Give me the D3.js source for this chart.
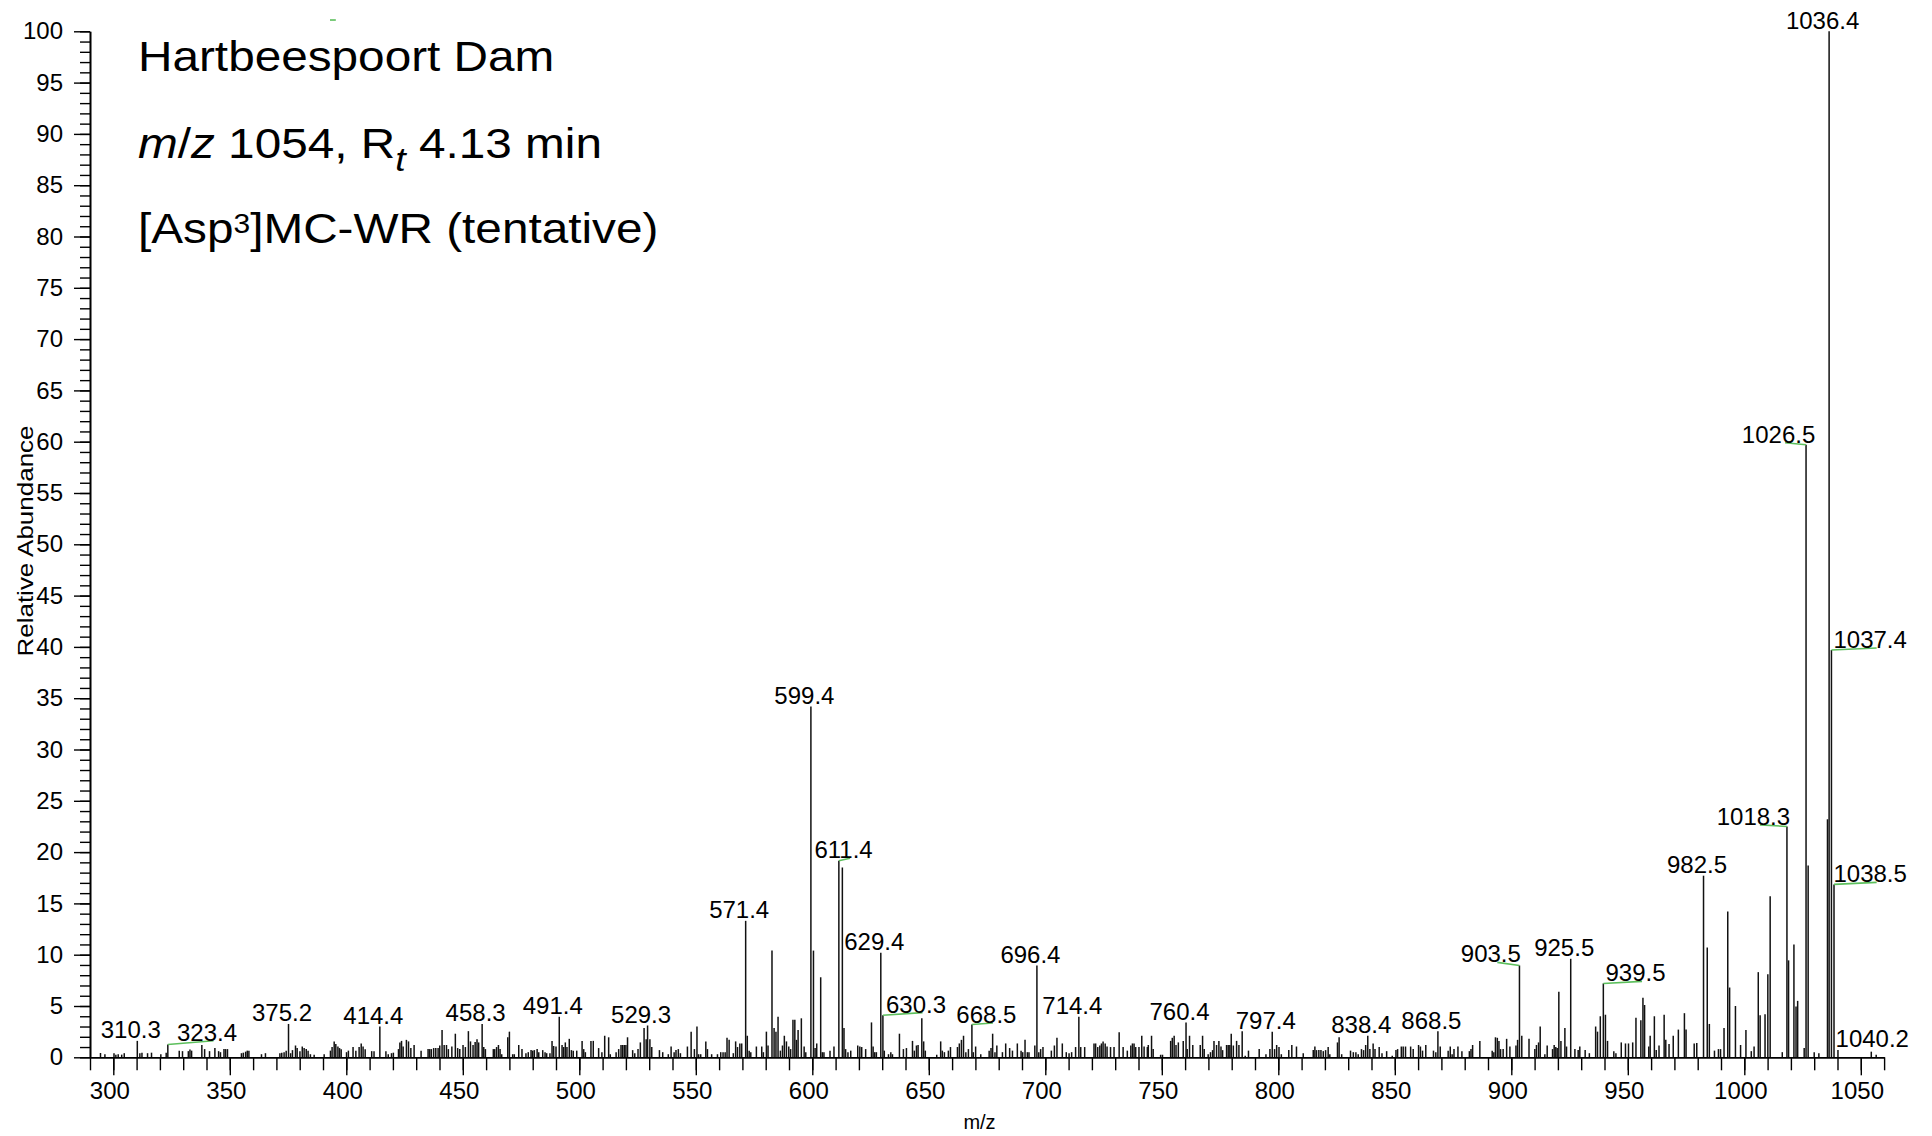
<!DOCTYPE html>
<html><head><meta charset="utf-8">
<script src="https://cdn.jsdelivr.net/npm/d3@7"></script>
<style>
html,body{margin:0;padding:0;background:#fff;}
svg{display:block;font-family:"Liberation Sans",Arial,Helvetica,sans-serif;}
</style></head>
<body>
<svg id="chart" width="1932" height="1136"></svg>
<script>
// ---- spectrum data: m/z and relative abundance (%) ----
const peakMz = [
294.5,296.4,300.3,301.1,302.1,303.6,304.7,310.3,311.4,312.3,314.7,316.4,320.4,322.7,323.4,328.3,329.7,332.2,332.9,333.6,
338.0,339.2,341.3,343.6,345.2,346.0,347.5,348.2,349.0,355.0,355.8,356.8,357.5,358.2,363.6,365.3,371.5,372.3,373.3,374.2,
375.2,376.1,376.9,378.2,378.9,380.1,381.1,381.9,382.8,383.6,384.6,386.2,390.5,393.2,393.9,394.8,395.5,396.4,397.1,397.8,
400.1,400.9,402.9,404.1,405.5,406.4,407.2,408.1,410.9,411.9,414.4,417.0,418.0,419.4,420.2,422.4,423.0,423.7,424.4,425.8,
426.7,427.7,429.1,432.1,435.1,435.8,436.5,437.5,438.4,439.4,440.1,441.1,442.0,443.0,443.8,445.3,446.8,447.8,448.7,450.1,
451.1,452.4,453.3,454.4,455.3,456.1,456.8,458.3,459.0,459.7,463.1,463.7,464.5,465.3,466.0,466.7,469.3,470.0,471.4,472.1,
474.0,475.4,477.1,478.1,479.3,480.0,480.7,481.9,482.6,484.3,485.3,486.0,487.4,488.3,489.0,490.0,491.4,492.6,493.3,494.0,
494.7,495.7,496.6,497.4,498.9,501.2,501.9,502.6,505.0,506.0,508.3,509.7,510.9,512.6,513.3,515.8,516.9,517.9,518.6,519.3,
520.0,520.7,522.9,523.8,525.2,526.2,527.8,528.7,529.3,530.3,531.1,534.4,535.8,538.2,539.4,540.7,541.5,542.5,543.4,546.4,
548.0,549.4,550.5,551.2,552.1,554.3,555.0,556.8,559.3,560.7,561.7,562.6,563.4,564.3,566.1,567.1,567.9,568.9,569.7,571.4,
572.1,572.9,573.6,576.0,578.3,579.0,580.3,581.0,582.7,583.6,584.4,585.3,586.3,587.2,588.0,588.9,589.9,590.7,591.7,592.5,
593.2,593.9,595.3,596.5,597.2,599.4,600.5,601.2,601.9,603.6,604.3,605.0,607.6,609.3,611.4,612.9,613.6,614.3,615.3,616.5,
619.5,620.4,621.2,622.9,625.4,626.1,626.8,627.5,629.4,630.3,630.9,632.7,633.7,634.4,637.4,639.1,640.4,643.0,643.8,644.7,
645.4,647.0,647.8,648.5,653.4,655.1,655.8,656.7,658.4,659.3,662.3,663.1,664.0,664.9,665.9,667.0,668.5,669.1,670.1,672.3,
675.9,676.7,677.4,678.4,679.2,681.6,683.0,684.7,685.9,688.0,689.6,690.3,691.3,692.3,693.0,695.5,696.4,697.2,698.0,699.0,
702.6,703.9,705.0,707.3,709.0,710.2,711.3,713.0,714.4,715.2,716.9,720.9,721.6,722.5,723.4,724.1,724.8,725.7,726.5,728.0,
729.5,731.7,733.4,735.2,736.7,737.4,738.1,738.8,740.2,741.4,742.4,743.8,744.2,745.6,746.3,749.5,750.3,753.8,754.5,755.3,
756.1,757.1,759.2,760.4,760.9,761.9,763.3,766.5,767.5,768.2,769.9,770.9,771.8,772.4,773.5,774.5,775.4,776.1,777.8,778.5,
779.2,779.8,780.7,782.1,783.1,784.5,785.8,787.2,791.8,794.7,796.4,797.4,798.4,799.3,800.3,801.3,804.5,805.8,807.8,810.7,
815.0,815.7,816.4,817.4,818.3,819.3,820.3,821.4,822.1,825.4,826.1,827.2,831.0,832.2,833.3,834.3,835.7,836.6,837.5,838.4,
839.3,840.7,841.5,843.3,844.5,846.5,848.9,850.5,851.2,852.8,853.6,854.6,856.8,857.9,860.2,861.0,861.9,863.3,866.6,867.6,
868.5,869.5,872.9,873.8,874.6,875.4,877.1,878.8,882.0,882.7,883.4,886.5,891.8,892.5,893.2,894.0,894.7,895.4,896.5,898.0,
899.4,902.0,902.7,903.5,904.5,907.6,910.1,910.8,911.7,912.4,914.4,915.4,917.7,918.4,919.1,919.7,920.4,921.3,923.0,923.7,
925.5,927.3,928.7,929.4,931.7,933.5,936.2,937.0,938.2,939.5,940.4,941.3,944.0,944.9,947.2,949.0,950.3,952.1,953.5,955.6,
956.5,957.2,959.0,959.6,961.4,962.2,963.4,965.6,966.3,967.7,969.5,971.7,974.3,975.0,978.5,979.6,982.5,984.1,985.0,987.2,
988.9,989.8,991.3,992.9,993.7,996.2,998.4,1000.7,1003.0,1004.2,1006.0,1006.8,1008.9,1010.1,1011.1,1016.3,1018.3,1019.0,1021.3,1022.2,
1022.9,1025.7,1026.5,1027.4,1030.0,1032.0,1035.7,1036.4,1037.4,1038.5,1040.2,1054.5,1056.6
];
const peakAbundance = [
0.42,0.3,0.4,0.26,0.3,0.26,0.4,1.6,0.4,0.45,0.4,0.45,0.3,0.45,1.25,0.65,0.6,0.6,0.75,0.65,
1.2,0.8,0.6,0.9,0.6,0.5,0.8,0.8,0.8,0.4,0.45,0.55,0.65,0.65,0.3,0.4,0.4,0.45,0.5,0.65,
3.25,0.4,0.7,1.15,0.9,0.6,1.05,0.9,0.8,0.65,0.3,0.26,0.3,0.65,1.0,1.55,1.3,1.05,0.9,0.78,
0.5,0.65,1.0,0.65,1.0,1.35,1.05,0.78,0.6,0.6,3.0,0.6,0.3,0.4,0.45,0.8,1.45,1.6,1.05,1.7,
1.55,0.9,1.2,0.65,0.8,0.8,0.8,0.9,0.9,0.9,1.15,2.65,1.2,1.2,0.8,1.05,2.3,0.9,0.8,1.2,
1.0,2.55,1.55,1.2,1.5,1.75,1.45,3.25,1.0,0.8,0.8,0.8,1.0,1.2,0.8,0.3,1.95,2.5,0.3,0.3,
1.2,0.8,0.4,0.5,0.7,0.65,0.7,0.8,0.5,0.7,0.5,0.4,0.4,1.6,1.1,1.05,3.95,1.2,1.0,1.45,
1.0,1.8,0.7,0.65,0.65,1.6,0.8,0.5,1.6,1.6,0.9,0.5,2.1,1.95,0.3,0.5,0.8,1.2,1.2,1.2,
1.2,1.95,0.7,0.4,0.8,1.45,2.85,1.75,3.1,1.75,1.0,0.7,0.5,0.3,1.05,0.5,0.7,0.8,0.4,1.05,
2.5,0.8,3.0,0.3,0.3,1.55,0.8,0.3,0.3,0.5,0.5,0.5,1.9,1.7,0.4,1.55,1.0,1.35,1.35,13.3,
2.1,0.65,0.5,1.05,1.05,0.5,2.5,1.15,10.4,2.85,2.5,3.95,0.65,1.15,2.1,1.55,1.05,0.8,3.65,3.65,
1.7,2.65,3.8,1.05,0.5,34.2,10.4,0.9,1.35,7.8,0.5,0.5,0.65,1.05,19.15,18.5,2.85,0.8,0.5,0.65,
1.15,1.05,1.0,0.8,3.4,1.05,0.5,0.5,10.2,4.1,0.65,0.3,0.5,0.3,2.3,0.8,0.9,1.6,0.65,1.15,
1.2,3.8,1.55,0.65,0.25,1.55,0.65,0.5,0.65,1.0,1.0,1.35,1.7,2.1,0.5,0.8,3.2,0.5,1.05,0.3,
0.65,0.9,2.3,0.5,1.15,0.5,1.35,0.9,0.65,1.35,0.65,0.5,1.7,0.5,0.5,1.15,8.95,0.5,0.8,1.0,
0.65,1.15,1.9,1.35,0.5,0.4,0.5,1.0,3.95,1.0,1.0,1.35,1.35,1.0,1.15,1.35,1.55,1.35,1.05,1.0,
1.0,2.45,1.0,0.65,1.15,1.35,1.35,1.0,1.0,2.1,1.05,1.0,1.2,2.1,0.8,0.25,0.25,1.6,1.9,2.1,
1.2,1.45,1.6,3.4,0.8,2.1,1.2,1.2,2.1,0.8,0.3,0.5,0.7,1.6,1.2,1.6,1.05,0.7,1.2,1.2,
1.2,2.3,1.15,1.6,1.2,2.55,0.15,0.65,0.8,0.3,0.8,2.5,0.8,1.2,1.0,0.3,0.7,1.2,1.05,0.4,
0.7,1.05,0.7,0.7,0.7,0.6,0.7,1.0,0.3,1.45,1.95,0.3,0.65,0.5,0.5,0.3,0.8,0.7,1.2,2.1,
0.8,1.35,0.8,1.0,0.4,0.6,0.15,0.7,0.8,1.05,1.05,1.05,1.05,0.8,1.2,1.05,0.65,1.2,0.65,0.5,
2.55,1.05,0.65,1.05,0.3,0.8,1.05,0.6,0.6,0.8,1.2,1.6,0.65,0.5,1.95,1.9,1.6,0.8,0.8,1.8,
1.05,1.15,1.7,8.95,2.1,1.8,0.8,1.2,1.45,3.0,0.3,1.15,0.8,1.2,1.0,0.9,6.4,1.6,2.85,1.05,
9.6,0.8,0.7,1.05,0.7,0.4,3.0,2.5,4.0,7.2,4.15,1.6,0.6,0.4,1.45,1.35,1.35,1.45,3.85,3.6,
5.8,5.1,1.05,2.1,4.0,0.7,1.15,4.15,1.7,1.3,2.1,2.7,4.3,2.7,1.35,1.4,17.7,10.7,3.25,0.65,
0.8,0.8,2.85,14.2,6.8,5.0,1.2,2.65,0.6,1.05,8.3,4.1,4.2,8.1,15.7,0.5,22.5,9.45,11.0,4.95,
5.5,0.9,59.7,18.7,0.5,0.4,23.2,100,39.7,16.85,0.7,0.55,0.25
];

// ---- annotated peaks ----
const labelTexts = ["310.3","323.4","375.2","414.4","458.3","491.4","529.3","571.4","599.4","611.4","629.4","630.3","668.5",
  "696.4","714.4","760.4","797.4","838.4","868.5","903.5","925.5","939.5","982.5","1018.3","1026.5","1036.4","1037.4","1038.5","1040.2"];
const labelPeakMz = [310.3,323.4,375.2,414.4,458.3,491.4,529.3,571.4,599.4,611.4,629.4,630.3,668.5,
  696.4,714.4,760.4,797.4,838.4,868.5,903.5,925.5,939.5,982.5,1018.3,1026.5,1036.4,1037.4,1038.5,1040.2];
const labelPeakValue = [1.6,1.25,3.25,3.0,3.25,3.95,3.1,13.3,34.2,19.15,10.2,4.1,3.2,
  8.95,3.95,3.4,2.5,2.1,2.55,8.95,9.6,7.2,17.7,22.5,59.7,100,39.7,16.85,0.7];
// where each label sits (m/z of its anchor, abundance level of its baseline); leader = green connector
const labelAnchorMz = [310.3,343.0,375.2,414.4,458.3,491.4,529.3,571.4,599.4,616.2,629.4,647.3,677.5,
  696.4,714.4,760.4,797.4,838.4,868.5,894.0,925.5,956.1,982.5,1006.7,1017.5,1036.4,1056.8,1056.8,1057.7];
const labelAnchorValue = [1.85,1.62,3.5,3.25,3.5,4.2,3.35,13.55,34.45,19.4,10.45,4.35,3.35,
  9.2,4.2,3.65,2.75,2.35,2.8,9.25,9.85,7.4,17.95,22.65,59.9,100.2,39.9,17.05,1.05];
const labelLeader = [false,true,false,false,false,false,false,false,false,true,false,true,true,
  false,false,false,false,false,false,true,false,true,false,true,true,false,true,true,false];
const strayMarkMz = [393.0, 395.5];
const strayMarkValue = [101.1, 101.1];

// ---- axes ----
const xTickLabels = [300,350,400,450,500,550,600,650,700,750,800,850,900,950,1000,1050];
const yTickLabels = [0,5,10,15,20,25,30,35,40,45,50,55,60,65,70,75,80,85,90,95,100];
const xMinorTicks = d3.range(290, 1061, 10);
const yMinorTicks = d3.range(0, 101, 1);

const svg = d3.select("#chart");
const x = d3.scaleLinear().domain([290, 1060]).range([90, 1884.1]);
const y = d3.scaleLinear().domain([0, 100]).range([1057.3, 31.3]);

// peaks
svg.append("g").selectAll("line").data(peakMz).join("line")
  .attr("x1", d => x(d)).attr("x2", d => x(d))
  .attr("y1", y(0)).attr("y2", (d, i) => y(peakAbundance[i]))
  .attr("stroke", "#111").attr("stroke-width", 1.5);

// x axis
const gx = svg.append("g").attr("transform", `translate(0,${y(0)})`);
gx.call(d3.axisBottom(x).tickValues(xMinorTicks).tickSize(13).tickSizeOuter(0).tickFormat(""));
const gx2 = svg.append("g").attr("transform", `translate(0,${y(0)})`);
gx2.call(d3.axisBottom(x).tickValues(xTickLabels).tickSize(18).tickSizeOuter(0).tickPadding(7).tickFormat(d3.format("d")));
gx2.selectAll(".tick text").attr("dx", -4);
[gx, gx2].forEach(g => {
  g.selectAll("path.domain").attr("stroke", "#000").attr("stroke-width", 1.6);
  g.selectAll(".tick line").attr("stroke", "#000").attr("stroke-width", 1.4);
  g.selectAll("text").attr("font-size", 24).attr("fill", "#000").attr("font-family", "Liberation Sans, Arial, sans-serif");
});

// y axis
const gy = svg.append("g").attr("transform", `translate(${x(290)},0)`);
gy.call(d3.axisLeft(y).tickValues(yMinorTicks).tickSize(10).tickSizeOuter(0).tickFormat(""));
const gy2 = svg.append("g").attr("transform", `translate(${x(290)},0)`);
gy2.call(d3.axisLeft(y).tickValues(yTickLabels).tickSize(16).tickSizeOuter(0).tickPadding(11).tickFormat(d3.format("d")));
[gy, gy2].forEach(g => {
  g.selectAll("path.domain").attr("stroke", "#000").attr("stroke-width", 1.6);
  g.selectAll(".tick line").attr("stroke", "#000").attr("stroke-width", 1.4);
  g.selectAll("text").attr("font-size", 24).attr("fill", "#000").attr("font-family", "Liberation Sans, Arial, sans-serif");
});

// leaders (green)
const leaderIdx = labelTexts.map((t, i) => i).filter(i => labelLeader[i]);
svg.append("g").selectAll("line").data(leaderIdx).join("line")
  .attr("x1", i => x(labelPeakMz[i])).attr("y1", i => y(labelPeakValue[i]))
  .attr("x2", i => x(labelAnchorMz[i])).attr("y2", i => y(labelAnchorValue[i]))
  .attr("stroke", "#5cbf5c").attr("stroke-width", 1.6);
svg.append("line")
  .attr("x1", x(strayMarkMz[0])).attr("x2", x(strayMarkMz[1]))
  .attr("y1", y(strayMarkValue[0])).attr("y2", y(strayMarkValue[1]))
  .attr("stroke", "#5cbf5c").attr("stroke-width", 1.6);

// peak labels
svg.append("g").selectAll("text").data(labelTexts).join("text")
  .attr("x", (d, i) => x(labelAnchorMz[i]) - 6.5)
  .attr("y", (d, i) => y(labelAnchorValue[i]))
  .attr("text-anchor", "middle").attr("font-size", 24).attr("fill", "#000")
  .text(d => d);

// axis titles
svg.append("text").attr("x", 979.5).attr("y", 1129).attr("text-anchor", "middle")
  .attr("font-size", 20).text("m/z");
svg.append("text").attr("transform", "translate(33,541) rotate(-90)")
  .attr("text-anchor", "middle").attr("font-size", 22)
  .attr("textLength", 231).attr("lengthAdjust", "spacingAndGlyphs")
  .text("Relative Abundance");

// title block
const tg = svg.append("g").attr("transform", "translate(138,0) scale(1.11,1)").attr("font-size", 43).attr("fill", "#000");
tg.append("text").attr("x", 0).attr("y", 71).text("Hartbeespoort Dam");
const t2 = tg.append("text").attr("x", 0).attr("y", 158);
t2.append("tspan").attr("font-style", "italic").text("m");
t2.append("tspan").text("/");
t2.append("tspan").attr("font-style", "italic").text("z");
t2.append("tspan").text(" 1054, R");
t2.append("tspan").attr("font-style", "italic").attr("font-size", 34).attr("dy", 13).text("t");
t2.append("tspan").attr("dy", -13).text(" 4.13 min");
const t3 = tg.append("text").attr("x", 0).attr("y", 243);
t3.append("tspan").text("[Asp");
t3.append("tspan").attr("font-size", 27).attr("dy", -10).text("3");
t3.append("tspan").attr("dy", 10).text("]MC-WR (tentative)");
</script>
</body></html>
